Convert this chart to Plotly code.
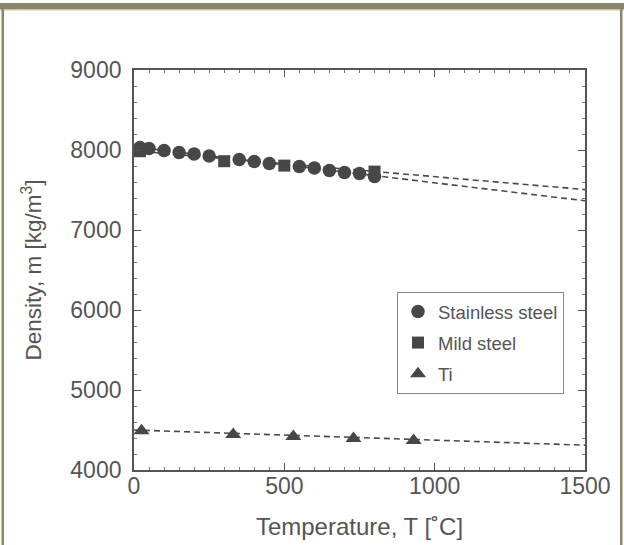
import plotly.graph_objects as go

# ---- data ----
ss_T = [20, 50, 100, 150, 200, 250, 350, 400, 450, 550, 600, 650, 700, 750, 800]
ss_rho = [8030, 8020, 7995, 7970, 7950, 7925, 7880, 7855, 7830, 7795, 7775, 7745, 7720, 7705, 7670]

mild_T = [20, 300, 500, 800]
mild_rho = [7985, 7860, 7805, 7730]

ti_T = [25, 330, 530, 730, 930]
ti_rho = [4490, 4445, 4420, 4395, 4370]

fit_T = [0, 1500]
ss_fit = [8040, 7365]
mild_fit = [7990, 7505]
ti_fit = [4500, 4310]

x_ticks = [0, 500, 1000, 1500]
y_ticks = [4000, 5000, 6000, 7000, 8000, 9000]

W, H = 624, 545
L, R, T, B = 134, 39, 70, 75
PW, PH = W - L - R, H - T - B

def px_x(px):
    return (px - L) / PW

def px_y(py):
    return (H - B - py) / PH

mark = "#474747"
line_c = "#4a4a4a"
text_c = "#555555"
olive = "#8c8666"

fig = go.Figure()

dash = "6px,4px"
for y in (ss_fit, mild_fit, ti_fit):
    fig.add_trace(go.Scatter(x=fit_T, y=y, mode="lines",
                             line=dict(color=line_c, width=1.6, dash=dash),
                             showlegend=False, hoverinfo="skip"))

fig.add_trace(go.Scatter(x=ss_T, y=ss_rho, mode="markers", name="Stainless steel",
                         legendgroup="a",
                         marker=dict(symbol="circle", size=13.5, color=mark)))
fig.add_trace(go.Scatter(x=mild_T, y=mild_rho, mode="markers", name="Mild steel",
                         legendgroup="b",
                         marker=dict(symbol="square", size=12, color=mark)))
fig.add_trace(go.Scatter(x=ti_T, y=ti_rho, mode="markers", name="Ti",
                         legendgroup="c",
                         marker=dict(symbol="triangle-up", size=14, color=mark)))

font_family = "Liberation Sans, Arial, sans-serif"
axis_common = dict(showgrid=False, zeroline=False, showline=True, linecolor="#555555",
                   linewidth=1.8, mirror="allticks", ticks="inside", ticklen=7,
                   tickwidth=1.2, tickcolor="#555555", automargin=False,
                   tickfont=dict(size=23, color=text_c, family=font_family))

fig.update_xaxes(range=[0, 1500], tickvals=x_ticks, ticktext=[str(v) for v in x_ticks],
                 ticklabelstandoff=-6,
                 minor=dict(dtick=50, ticks="inside", ticklen=3.5, tickwidth=1,
                            tickcolor="#777777"),
                 title=dict(text="Temperature, T [˚C]", standoff=21,
                            font=dict(size=24, color=text_c, family=font_family)),
                 **axis_common)
fig.update_yaxes(range=[4000, 9000], tickvals=y_ticks, ticktext=[str(v) for v in y_ticks],
                 ticklabelstandoff=6,
                 minor=dict(dtick=200, ticks="inside", ticklen=3.5, tickwidth=1,
                            tickcolor="#777777"),
                 title=dict(text="Density, m [kg/m<sup>3</sup>]", standoff=22,
                            font=dict(size=22.5, color=text_c, family=font_family)),
                 **axis_common)

shapes = [
    # top band
    dict(type="rect", xref="paper", yref="paper", x0=px_x(-2), x1=px_x(W + 2),
         y0=px_y(9.5), y1=px_y(3), fillcolor=olive, line=dict(width=0), layer="above"),
    dict(type="line", xref="paper", yref="paper", x0=px_x(0), x1=px_x(W),
         y0=px_y(10), y1=px_y(10), line=dict(color="#c9c5b2", width=1)),
    # left border
    dict(type="rect", xref="paper", yref="paper", x0=px_x(1.5), x1=px_x(4),
         y0=px_y(H + 2), y1=px_y(3), fillcolor=olive, line=dict(width=0)),
    # right border
    dict(type="rect", xref="paper", yref="paper", x0=px_x(620), x1=px_x(622.5),
         y0=px_y(H + 2), y1=px_y(3), fillcolor=olive, line=dict(width=0)),
]

fig.update_layout(
    width=W, height=H,
    margin=dict(l=L, r=R, t=T, b=B),
    paper_bgcolor="white", plot_bgcolor="white",
    font=dict(family=font_family, color=text_c),
    shapes=shapes,
    legend=dict(x=px_x(397), y=px_y(292), xanchor="left", yanchor="top",
                bgcolor="white", bordercolor="#888888", borderwidth=1,
                font=dict(size=18.5, color=text_c, family=font_family),
                itemwidth=30, tracegroupgap=4),
    showlegend=True,
)

fig.write_html("out.html", config={"displayModeBar": False},
               post_script="document.body.style.margin='0';document.body.style.overflow='hidden';")
